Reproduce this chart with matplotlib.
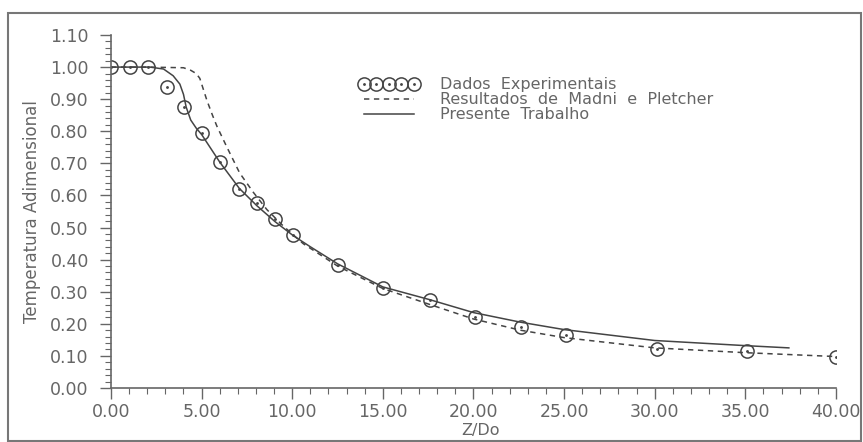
import matplotlib
matplotlib.use("Agg")
import matplotlib.pyplot as plt
from matplotlib.ticker import MultipleLocator, FormatStrFormatter
from matplotlib.patches import Rectangle
from matplotlib.path import Path

# experimental points
exp_x = [0, 1.05, 2.05, 3.1, 4.05, 5.0, 6.0, 7.08, 8.05, 9.05, 10.05,
         12.5, 15.0, 17.6, 20.1, 22.6, 25.1, 30.1, 35.1, 40.0]
exp_y = [1.00, 1.00, 1.00, 0.937, 0.875, 0.794, 0.704, 0.62, 0.577, 0.528, 0.478,
         0.384, 0.313, 0.275, 0.22, 0.19, 0.165, 0.122, 0.116, 0.098]

# Madni e Pletcher (dashed)
mp_x = [0, 2, 4.0, 4.4, 4.7, 4.9, 5.1, 5.3, 5.6, 5.85, 6.4, 7.1, 7.85, 8.6, 9.5, 10.6,
        12.5, 15, 17.6, 20, 22.6, 25, 30, 35, 40]
mp_y = [1.0, 1.0, 0.998, 0.99, 0.98, 0.965, 0.93, 0.895, 0.85, 0.815, 0.75, 0.67, 0.61, 0.556, 0.505, 0.45,
        0.38, 0.31, 0.26, 0.215, 0.18, 0.157, 0.125, 0.11, 0.098]

# presente trabalho (solid)
pt_x = [0, 2.15, 2.9, 3.43, 3.8, 4.0, 4.15, 4.4, 4.7, 5.0, 6.0, 7.08, 8.05, 9.06, 10.05,
        11.0, 12.5, 15, 17.6, 20, 22.6, 25, 30, 35, 37.4]
pt_y = [1.0, 1.0, 0.994, 0.973, 0.947, 0.915, 0.875, 0.835, 0.81, 0.79, 0.704, 0.622, 0.568, 0.518, 0.475,
        0.44, 0.387, 0.315, 0.275, 0.235, 0.205, 0.182, 0.148, 0.132, 0.125]

grey = "#666666"
line_c = "#444444"
plt.rcParams["font.family"] = ["DejaVu Sans"]

# circle with a dot in the middle
dot_circle = Path.make_compound_path(Path.unit_circle(),
                                     Path.circle((0, 0), radius=0.1))

fig = plt.figure(figsize=(8.63, 4.42), dpi=100)
ax = fig.add_axes([0.1286, 0.1222, 0.8401, 0.7986])

# frame round the whole picture
fig.patches.append(Rectangle((8 / 863, 1 / 442), 853 / 863, 428 / 442,
                             transform=fig.transFigure, fill=False,
                             edgecolor="#777777", lw=1.5))

l_mp, = ax.plot(mp_x, mp_y, color=line_c, lw=1.1, ls=(0, (3.5, 3)),
                label="Resultados  de  Madni  e  Pletcher")
l_pt, = ax.plot(pt_x, pt_y, color=line_c, lw=1.1, label="Presente  Trabalho")
m_c, = ax.plot(exp_x, exp_y, ls="none", marker=dot_circle, ms=9.5, mfc="none",
               mec=line_c, mew=1.1, label="Dados  Experimentais")

ax.set_xlim(0, 40)
ax.set_ylim(0, 1.10)
for s in ["top", "right"]:
    ax.spines[s].set_visible(False)
for s in ["left", "bottom"]:
    ax.spines[s].set_color(grey)
    ax.spines[s].set_linewidth(1.2)
ax.patch.set_alpha(0)

ax.xaxis.set_major_locator(MultipleLocator(5))
ax.xaxis.set_minor_locator(MultipleLocator(1))
ax.yaxis.set_major_locator(MultipleLocator(0.1))
ax.yaxis.set_minor_locator(MultipleLocator(0.02))
ax.xaxis.set_major_formatter(FormatStrFormatter("%.2f"))
ax.yaxis.set_major_formatter(FormatStrFormatter("%.2f"))
ax.tick_params(which="major", direction="out", length=8, width=1, color=grey,
               labelcolor=grey, labelsize=12.5)
ax.tick_params(which="minor", direction="out", length=4, width=0.8, color=grey)
ax.tick_params(axis="x", pad=3)
ax.tick_params(axis="y", pad=8)

ax.set_xlabel("Z/Do", color=grey, fontsize=11.5)
ax.xaxis.set_label_coords(0.51, -0.098)
ax.set_ylabel("Temperatura Adimensional", color=grey, fontsize=12)
ax.yaxis.set_label_coords(-0.097, 0.5)

ax.legend([m_c, l_mp, l_pt],
          [m_c.get_label(), l_mp.get_label(), l_pt.get_label()],
          numpoints=5, frameon=False, loc="upper left",
          bbox_to_anchor=(0.342, 0.88), handlelength=3.75, handletextpad=1.3,
          labelspacing=0.0, fontsize=11.5, labelcolor=grey, borderpad=0,
          borderaxespad=0)

fig.savefig("out.png", dpi=100)
